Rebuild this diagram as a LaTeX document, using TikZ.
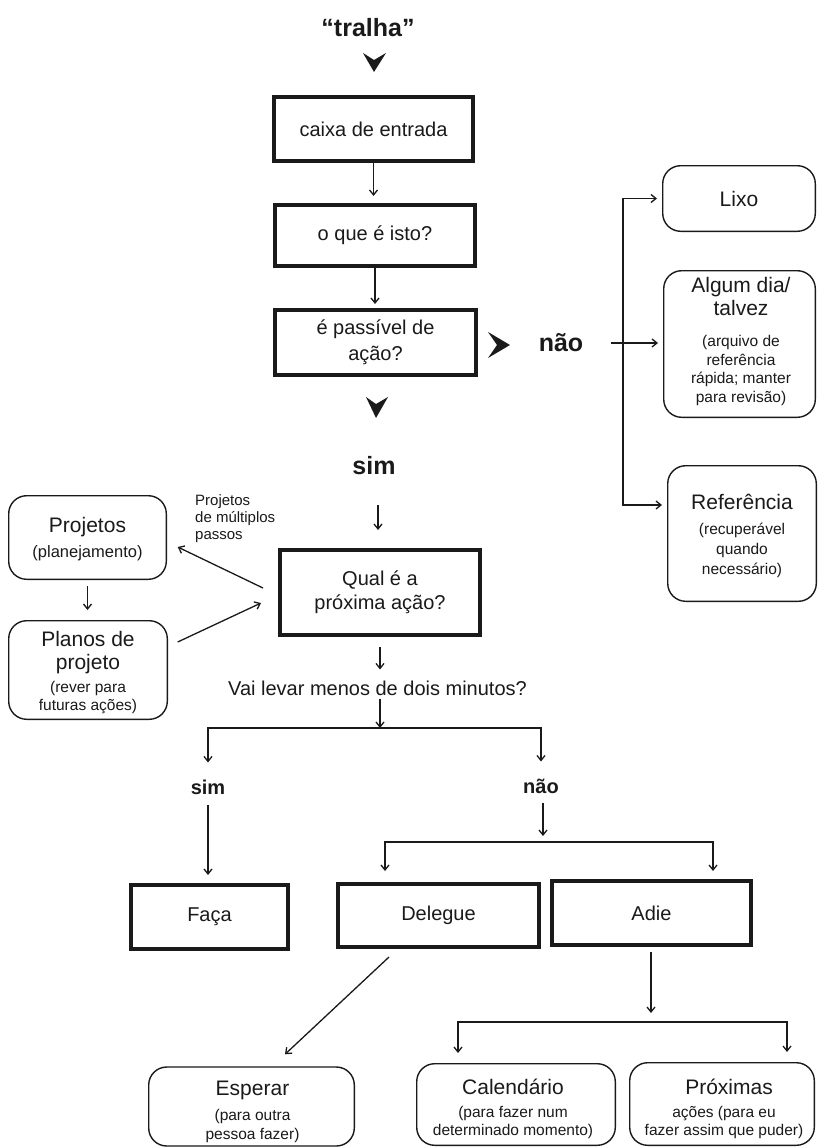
\documentclass[tikz,border=0pt]{standalone}
\usepackage{fontspec}
\setmainfont{Liberation Sans}
\usetikzlibrary{arrows.meta}
\definecolor{ink}{HTML}{1A1A1A}
\begin{document}
\begin{tikzpicture}[x=1pt,y=-1pt,
  every node/.style={text=ink},
  thickbox/.style={draw=ink, line width=4pt, inner sep=0pt, align=center, font=\fontsize{20}{26}\selectfont},
  rbox/.style={draw=ink, line width=1.4pt, rounded corners=18pt, inner sep=0pt},
  ttl/.style={inner sep=0pt, align=center, font=\fontsize{21}{22.5}\selectfont},
  sub/.style={inner sep=0pt, align=center, font=\fontsize{15.5}{18.5}\selectfont},
  lbl/.style={inner sep=0pt, font=\bfseries\fontsize{25}{28}\selectfont},
  lbltwo/.style={inner sep=0pt, font=\bfseries\fontsize{20}{24}\selectfont},
  txt/.style={inner sep=0pt, font=\fontsize{20}{24}\selectfont},
  arr/.style={draw=ink, line width=1.3pt, -{Straight Barb[length=5pt,width=8pt]}},
  chev/.style={fill=ink}
]
\useasboundingbox (0,0) rectangle (817,1148);
\fill[white] (0,0) rectangle (817,1148);

% main column
\node[lbl] (tralha) at (368,28) {“tralha”};
\fill[chev] (363,53) -- (374,60) -- (386,53) -- (374,72) -- cycle;
\node[thickbox, minimum width=199pt, minimum height=64pt] (caixa) at (373.5,129) {caixa de entrada};
\node[thickbox, minimum width=200pt, minimum height=61pt] (oque) at (375,235.5) {o que é isto?};
\node[thickbox, minimum width=201pt, minimum height=65pt] (passivel) at (375.5,342.5) {é passível de\\ação?};
\fill[chev] (488,332) -- (497,345) -- (488,358) -- (510,345) -- cycle;
\node[lbl] (nao) at (561,343) {não};
\fill[chev] (366,397) -- (376,404) -- (388,397) -- (376,418) -- cycle;
\node[lbl] (sim) at (374,466) {sim};
\node[thickbox, minimum width=200pt, minimum height=85pt, font=\fontsize{20}{24}\selectfont] (qual) at (380,592.5) {Qual é a\\próxima ação?};
\node[txt] (vai) at (377.5,688) {Vai levar menos de dois minutos?};
\node[lbltwo] (simtwo) at (208,787) {sim};
\node[lbltwo] (naotwo) at (541,786) {não};
\node[thickbox, minimum width=157pt, minimum height=64pt] (faca) at (209.5,917) {Faça};
\node[thickbox, minimum width=201pt, minimum height=63pt] (delegue) at (438.5,915.5) {Delegue};
\node[thickbox, minimum width=199pt, minimum height=64pt] (adie) at (651.5,913) {Adie};

% right column
\node[rbox, minimum width=152.6pt, minimum height=65.6pt, font=\fontsize{21}{22.5}\selectfont] (lixo) at (739,198.5) {Lixo};
\node[rbox, minimum width=151.6pt, minimum height=146.6pt] (algum) at (739.5,344) {};
\node[ttl] (algumt) at (741,296.5) {Algum dia/\\talvez};
\node[sub] (algums) at (741,370.5) {(arquivo de\\referência\\rápida; manter\\para revisão)};
\node[rbox, minimum width=148.6pt, minimum height=135.6pt] (ref) at (742,533.5) {};
\node[ttl] (reft) at (742,502) {Referência};
\node[sub, font=\fontsize{15.5}{20}\selectfont] (refs) at (742,550) {(recuperável\\quando\\necessário)};

% left column
\node[rbox, minimum width=157.6pt, minimum height=83.6pt] (proj) at (87.5,537.5) {};
\node[ttl] (projt) at (87.5,527) {Projetos};
\node[sub, font=\fontsize{16.5}{18.5}\selectfont] (projs) at (87.5,553) {(planejamento)};
\node[rbox, minimum width=158.6pt, minimum height=98.6pt] (planos) at (88,670) {};
\node[ttl] (planost) at (88,652.5) {Planos de\\projeto};
\node[sub] (planoss) at (88,697.5) {(rever para\\futuras ações)};
\node[sub, align=left, anchor=west, font=\fontsize{15}{17}\selectfont] (multi) at (195,519) {Projetos\\de múltiplos\\passos};

% bottom row
\node[rbox, minimum width=205.6pt, minimum height=79pt] (esperar) at (251.5,1106.5) {};
\node[ttl] (esperart) at (252.5,1090) {Esperar};
\node[sub] (esperars) at (252.5,1126) {(para outra\\pessoa fazer)};
\node[rbox, minimum width=198.6pt, minimum height=81.6pt] (cal) at (516,1104.5) {};
\node[ttl] (calt) at (513,1087) {Calendário};
\node[sub] (cals) at (513,1122.5) {(para fazer num\\determinado momento)};
\node[rbox, minimum width=184.6pt, minimum height=82.6pt] (prox) at (722,1104) {};
\node[ttl] (proxt) at (729,1087) {Próximas};
\node[sub] (proxs) at (724,1122.5) {ações (para eu\\fazer assim que puder)};

% split points
\coordinate (splitone) at (380,728);
\coordinate (splittwo) at (543,842);
\coordinate (splitthree) at (651,1022);
\coordinate (ncross) at (623,342);

% connectors main column
\draw[arr, shorten >=7pt] (caixa.south) -- (caixa.south |- oque.north);
\draw[arr, shorten >=4pt] (oque.south) -- (oque.south |- passivel.north);
\draw[arr, shorten <=30pt, shorten >=18pt] ([xshift=-2pt]qual.north |- sim.south) -- ([xshift=-2pt]qual.north);
\draw[arr, shorten <=10pt, shorten >=11pt] (qual.south) -- (qual.south |- vai.north);
\draw[arr, shorten <=3pt] (splitone |- vai.south) -- (splitone);
\draw[arr, shorten >=17pt] (splitone) -| (simtwo.north);
\draw[arr, shorten >=17pt] (splitone) -| (naotwo.north);
\draw[arr, shorten <=10pt, shorten >=8pt] (simtwo.south) -- (simtwo.south |- faca.north);
\draw[arr, shorten <=9pt, shorten >=6pt] (naotwo.south -| splittwo) -- (splittwo);
\draw[arr, shorten >=11pt] (splittwo) -| ([xshift=-53.5pt]delegue.north);
\draw[arr, shorten >=8pt] (splittwo) -| ([xshift=61.5pt]adie.north);
\draw[arr] ([xshift=-49.5pt,yshift=-8pt]delegue.south) -- ([xshift=33.5pt,yshift=12pt]esperar.north);
\draw[arr, shorten <=5pt, shorten >=9pt] (adie.south -| splitthree) -- (splitthree);
\draw[arr, shorten >=10pt] (splitthree) -| ([xshift=-58pt]cal.north);
\draw[arr, shorten >=10pt] (splitthree) -| ([xshift=65pt]prox.north);

% left connectors
\draw[arr, shorten <=6pt, shorten >=10pt] (proj.south) -- (proj.south |- planos.north);
\draw[arr] ([xshift=-15pt,yshift=4.5pt]qual.west) -- ([xshift=10.7pt,yshift=-9.5pt]proj.east);
\draw[arr] ([xshift=9.7pt,yshift=28pt]planos.east) -- ([xshift=-17pt,yshift=-10.5pt]qual.west);

% right connectors
\draw[arr, shorten <=28pt, shorten >=5pt] (nao.east) -- (nao.east -| algum.west);
\draw[arr, shorten >=5pt] (ncross) |- (lixo.west);
\draw[arr, shorten >=5pt] (ncross) |- ([yshift=28.5pt]ref.west);
\end{tikzpicture}
\end{document}
